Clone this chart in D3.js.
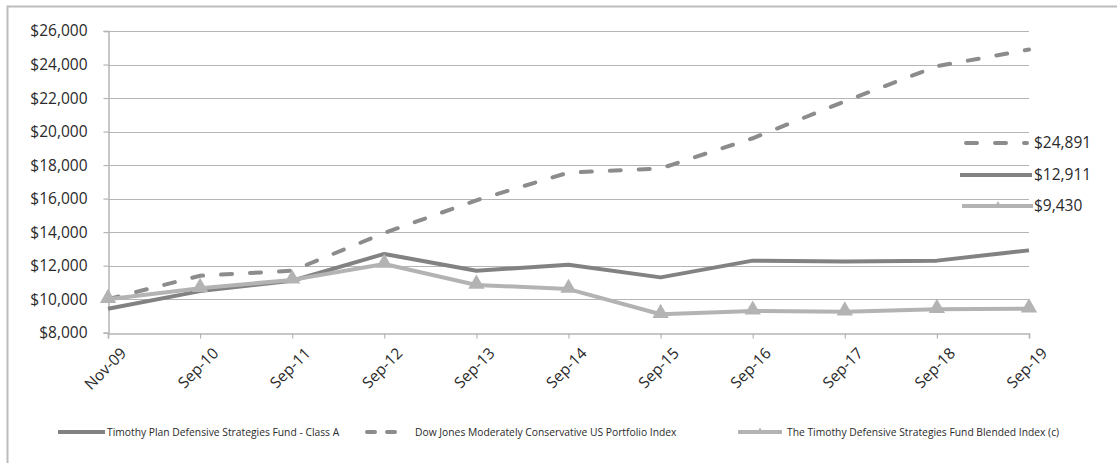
<!DOCTYPE html>
<html>
<head>
<meta charset="utf-8">
<script src="https://cdn.jsdelivr.net/npm/d3@7"></script>
<style>
  html, body { margin: 0; padding: 0; background: #fff; overflow: hidden; }
  svg { display: block; font-family: "Open Sans", "Noto Sans", sans-serif; }
</style>
</head>
<body>
<svg id="chart" width="1117" height="463"></svg>
<script>
// Growth of a $10,000 investment
const periods = ["Nov-09", "Sep-10", "Sep-11", "Sep-12", "Sep-13", "Sep-14",
                 "Sep-15", "Sep-16", "Sep-17", "Sep-18", "Sep-19"];
const classA   = [9425, 10480, 11100, 12700, 11700, 12050, 11300, 12300, 12250, 12300, 12911];
const dowJones = [10000, 11400, 11700, 13950, 15900, 17550, 17800, 19600, 21800, 23900, 24891];
const blended  = [10000, 10650, 11150, 12100, 10850, 10600, 9100, 9300, 9250, 9400, 9430];
const yTicks   = [8000, 10000, 12000, 14000, 16000, 18000, 20000, 22000, 24000, 26000];

const seriesNames = [
  "Timothy Plan Defensive Strategies Fund - Class A",
  "Dow Jones Moderately Conservative US Portfolio Index",
  "The Timothy Defensive Strategies Fund Blended Index (c)"
];
const endLabels = ["$12,911", "$24,891", "$9,430"];

const svg = d3.select("#chart");
const fmt = d3.format("$,");

const colA = "#828282", colDJ = "#8c8c8c", colB = "#b3b3b3", gridCol = "#b5b5b5";
const textCol = "#2a2a2a";

// outer frame
svg.append("rect").attr("x", 7.5).attr("y", 6.5).attr("width", 1130).attr("height", 480)
  .attr("fill", "none").attr("stroke", "#bcbcbc").attr("stroke-width", 2);

const x = d3.scalePoint().domain(periods).range([108, 1029]);
const y = d3.scaleLinear().domain([8000, 26000]).range([332.7, 31]);

// horizontal gridlines
svg.append("g").selectAll("line").data(yTicks.slice(1)).join("line")
  .attr("x1", 108).attr("x2", 1029)
  .attr("y1", d => Math.round(y(d)) + 0.5).attr("y2", d => Math.round(y(d)) + 0.5)
  .attr("stroke", gridCol).attr("stroke-width", 1.2);

// y axis
const yAxis = svg.append("g").attr("transform", "translate(108.5,0)")
  .call(d3.axisLeft(y).tickValues(yTicks).tickFormat(fmt).tickSize(5).tickPadding(16));
yAxis.select(".domain").attr("stroke", gridCol).attr("stroke-width", 1.5);
yAxis.selectAll(".tick line").attr("stroke", gridCol).attr("stroke-width", 1.2);
yAxis.selectAll(".tick text").attr("font-size", 15.5).attr("fill", textCol)
  .attr("font-family", "'Open Sans', sans-serif");

// x axis
const xAxis = svg.append("g").attr("transform", `translate(0,${Math.round(y(8000)) + 0.5})`)
  .call(d3.axisBottom(x).tickSize(5).tickPadding(6));
xAxis.select(".domain").attr("stroke", gridCol).attr("stroke-width", 1.5);
xAxis.selectAll(".tick line").attr("stroke", gridCol).attr("stroke-width", 1.2);
xAxis.selectAll(".tick text")
  .attr("font-size", 15.5).attr("fill", textCol)
  .attr("font-family", "'Open Sans', sans-serif")
  .attr("text-anchor", "end")
  .attr("transform", "translate(5,7) rotate(-45)")
  .attr("dy", "0.55em");

const line = d3.line().x((d, i) => x(periods[i])).y(d => y(d));

// Dow Jones index (dashed)
svg.append("path").datum(dowJones).attr("d", line)
  .attr("fill", "none").attr("stroke", colDJ).attr("stroke-width", 4)
  .attr("stroke-dasharray", "11,18").attr("stroke-linecap", "round");

// Class A fund
svg.append("path").datum(classA).attr("d", line)
  .attr("fill", "none").attr("stroke", colA).attr("stroke-width", 4)
  .attr("stroke-linejoin", "round");

// Blended index with triangle markers
svg.append("path").datum(blended).attr("d", line)
  .attr("fill", "none").attr("stroke", colB).attr("stroke-width", 4)
  .attr("stroke-linejoin", "round");
const tri = d3.symbol().type(d3.symbolTriangle).size(115);
svg.append("g").selectAll("path").data(blended).join("path")
  .attr("d", tri)
  .attr("transform", (d, i) => `translate(${x(periods[i])},${y(d) - 1})`)
  .attr("fill", colB);

// end-value key on the right
const endKey = [
  { y: 143, label: endLabels[1], col: colDJ, dash: "11,18", cap: "round", x1: 966, x2: 1027, marker: false },
  { y: 175, label: endLabels[0], col: colA, dash: null, cap: "butt", x1: 960, x2: 1032, marker: false },
  { y: 206, label: endLabels[2], col: colB, dash: null, cap: "butt", x1: 962, x2: 1033, marker: true }
];
endKey.forEach(k => {
  svg.append("line").attr("x1", k.x1).attr("x2", k.x2).attr("y1", k.y).attr("y2", k.y)
    .attr("stroke", k.col).attr("stroke-width", 4)
    .attr("stroke-dasharray", k.dash).attr("stroke-linecap", k.cap);
  if (k.marker) {
    svg.append("path").attr("d", d3.symbol().type(d3.symbolTriangle).size(20))
      .attr("transform", `translate(998,${k.y - 1})`).attr("fill", k.col);
  }
  svg.append("text").attr("x", 1034).attr("y", k.y).attr("dy", "0.35em")
    .attr("font-size", 15.5).attr("fill", textCol).text(k.label);
});

// bottom legend
const legend = [
  { name: seriesNames[0], col: colA, dash: null, cap: "butt", x1: 58, x2: 105, tx: 107, marker: false },
  { name: seriesNames[1], col: colDJ, dash: "8,12", cap: "round", x1: 367, x2: 400, tx: 415, marker: false },
  { name: seriesNames[2], col: colB, dash: null, cap: "butt", x1: 738, x2: 782, tx: 787, marker: true }
];
const ly = 432;
legend.forEach(l => {
  svg.append("line").attr("x1", l.x1).attr("x2", l.x2).attr("y1", ly).attr("y2", ly)
    .attr("stroke", l.col).attr("stroke-width", 4)
    .attr("stroke-dasharray", l.dash).attr("stroke-linecap", l.cap);
  if (l.marker) {
    svg.append("path").attr("d", d3.symbol().type(d3.symbolTriangle).size(16))
      .attr("transform", `translate(760,${ly - 1})`).attr("fill", l.col);
  }
  svg.append("text").attr("x", l.tx).attr("y", ly).attr("dy", "0.35em")
    .attr("font-size", 10.3).attr("fill", textCol).text(l.name);
});
</script>
</body>
</html>
